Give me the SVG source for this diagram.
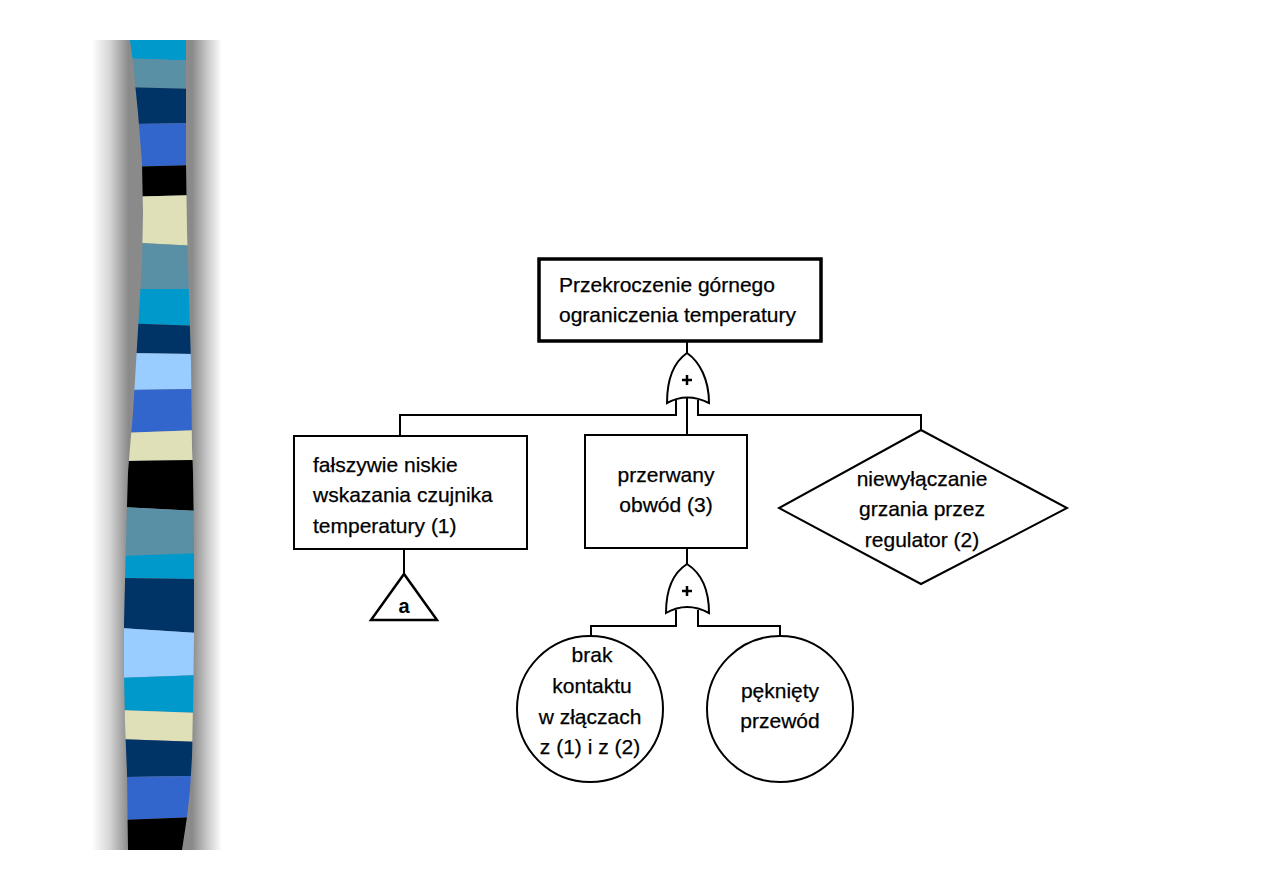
<svg xmlns="http://www.w3.org/2000/svg" width="1263" height="893" viewBox="0 0 1263 893">
<defs>
<linearGradient id="shadow" x1="92" y1="0" x2="222" y2="0" gradientUnits="userSpaceOnUse">
<stop offset="0" stop-color="#ffffff"/>
<stop offset="0.14" stop-color="#d4d4d4"/>
<stop offset="0.28" stop-color="#8a8a8a"/>
<stop offset="0.77" stop-color="#8a8a8a"/>
<stop offset="0.885" stop-color="#c8c8c8"/>
<stop offset="1" stop-color="#ffffff"/>
</linearGradient>
<clipPath id="band">
<path d="M130,40 L133,63 L138,113 L142,163 L143,213 L142,263 L139,313 L136,363 L133,413 L130,447 L128,473 L126,540 L124,623 L124,673 L125,723 L127,773 L128,850 L182,850 L187,817 L190,790 L192,757 L193,707 L194,640 L194,540 L193,473 L192,447 L191,363 L189,297 L187,230 L186,163 L186,40 Z"/>
</clipPath>
</defs>
<style>
.ln{fill:none;stroke:#000;stroke-width:2}
.bx{fill:#fff;stroke:#000;stroke-width:2}
.tx{font-family:"Liberation Sans",Arial,sans-serif;font-size:21px;fill:#000;stroke:#000;stroke-width:0.25}
.c{text-anchor:middle}
.plus{stroke:#000;stroke-width:2.5;fill:none}
</style>
<rect width="1263" height="893" fill="#fff"/>
<g id="sidebar">
<rect x="92" y="40" width="130" height="810" fill="url(#shadow)"/>
<g clip-path="url(#band)">
<polygon points="120,40 200,40 200,61 120,58" fill="#0099cc"/>
<polygon points="120,58 200,61 200,89 120,87" fill="#5a90a5"/>
<polygon points="120,87 200,89 200,123 120,124" fill="#003366"/>
<polygon points="120,124 200,123 200,165 120,167" fill="#3366cc"/>
<polygon points="120,167 200,165 200,195 120,197" fill="#000000"/>
<polygon points="120,197 200,195 200,246 120,242" fill="#dfdfb8"/>
<polygon points="120,242 200,246 200,289 120,289" fill="#5a90a5"/>
<polygon points="120,289 200,289 200,326 120,323" fill="#0099cc"/>
<polygon points="120,323 200,326 200,354 120,353" fill="#003366"/>
<polygon points="120,353 200,354 200,389 120,390" fill="#99ccff"/>
<polygon points="120,390 200,389 200,430 120,433" fill="#3366cc"/>
<polygon points="120,433 200,430 200,460 120,461" fill="#dfdfb8"/>
<polygon points="120,461 200,460 200,511 120,507" fill="#000000"/>
<polygon points="120,507 200,511 200,553 120,556" fill="#5a90a5"/>
<polygon points="120,556 200,553 200,579 120,578" fill="#0099cc"/>
<polygon points="120,578 200,579 200,633 120,628" fill="#003366"/>
<polygon points="120,628 200,633 200,675 120,678" fill="#99ccff"/>
<polygon points="120,678 200,675 200,713 120,710" fill="#0099cc"/>
<polygon points="120,710 200,713 200,742 120,739" fill="#dfdfb8"/>
<polygon points="120,739 200,742 200,776 120,777" fill="#003366"/>
<polygon points="120,777 200,776 200,817 120,820" fill="#3366cc"/>
<polygon points="120,820 200,817 200,850 120,850" fill="#000000"/>
</g>
</g>
<g id="connectors">
<line class="ln" x1="687" y1="342" x2="687" y2="354"/>
<polyline class="ln" points="676,400 676,415 400,415 400,436"/>
<polyline class="ln" points="698,400 698,415 921,415 921,431"/>
<line class="ln" x1="687" y1="398" x2="687" y2="435"/>
<line class="ln" x1="404" y1="549" x2="404" y2="574"/>
<line class="ln" x1="687" y1="548" x2="687" y2="565"/>
<polyline class="ln" points="676,610 676,626 591,626 591,637"/>
<polyline class="ln" points="698,610 698,626 780,626 780,637"/>
</g>
<g id="top-event">
<rect x="539" y="259" width="282" height="82" fill="#fff" stroke="#000" stroke-width="3.5"/>
<text class="tx" x="559" y="292">Przekroczenie górnego</text>
<text class="tx" x="559" y="322">ograniczenia temperatury</text>
</g>
<g id="gate-or-1">
<path class="bx" d="M667,403 C667,380 674,362 687,353 C700,362 709,380 709,403 Q687,392 667,403 Z"/>
<path class="plus" d="M687,375 V385 M682,380 H692"/>
</g>
<g id="node-czujnik">
<rect class="bx" x="294" y="436" width="233" height="113"/>
<text class="tx" x="313" y="472">fałszywie niskie</text>
<text class="tx" x="313" y="502">wskazania czujnika</text>
<text class="tx" x="313" y="533">temperatury (1)</text>
</g>
<g id="transfer-a">
<polygon points="404,574 371,620 437,620" fill="#fff" stroke="#000" stroke-width="2.5" stroke-linejoin="miter"/>
<text x="404" y="613" text-anchor="middle" font-family="Liberation Sans, Arial, sans-serif" font-size="20" font-weight="bold">a</text>
</g>
<g id="node-obwod">
<rect class="bx" x="585" y="435" width="162" height="113"/>
<text class="tx c" x="666" y="482">przerwany</text>
<text class="tx c" x="666" y="512">obwód (3)</text>
</g>
<g id="node-regulator">
<polygon class="bx" points="921,430 1067,508 921,584 779,508"/>
<text class="tx c" x="922" y="486">niewyłączanie</text>
<text class="tx c" x="922" y="516">grzania przez</text>
<text class="tx c" x="922" y="547">regulator (2)</text>
</g>
<g id="gate-or-2">
<path class="bx" d="M666,613 C666,590 673,573 687,564 C701,573 709,590 709,613 Q687,601 666,613 Z"/>
<path class="plus" d="M687,586 V596 M682,591 H692"/>
</g>
<g id="node-brak-kontaktu">
<circle class="bx" cx="590" cy="709" r="73"/>
<text class="tx c" x="592" y="662">brak</text>
<text class="tx c" x="592" y="693">kontaktu</text>
<text class="tx c" x="590" y="724">w złączach</text>
<text class="tx c" x="590" y="754">z (1) i z (2)</text>
</g>
<g id="node-przewod">
<circle class="bx" cx="780" cy="709" r="73"/>
<text class="tx c" x="780" y="698">pęknięty</text>
<text class="tx c" x="780" y="728">przewód</text>
</g>
</svg>
